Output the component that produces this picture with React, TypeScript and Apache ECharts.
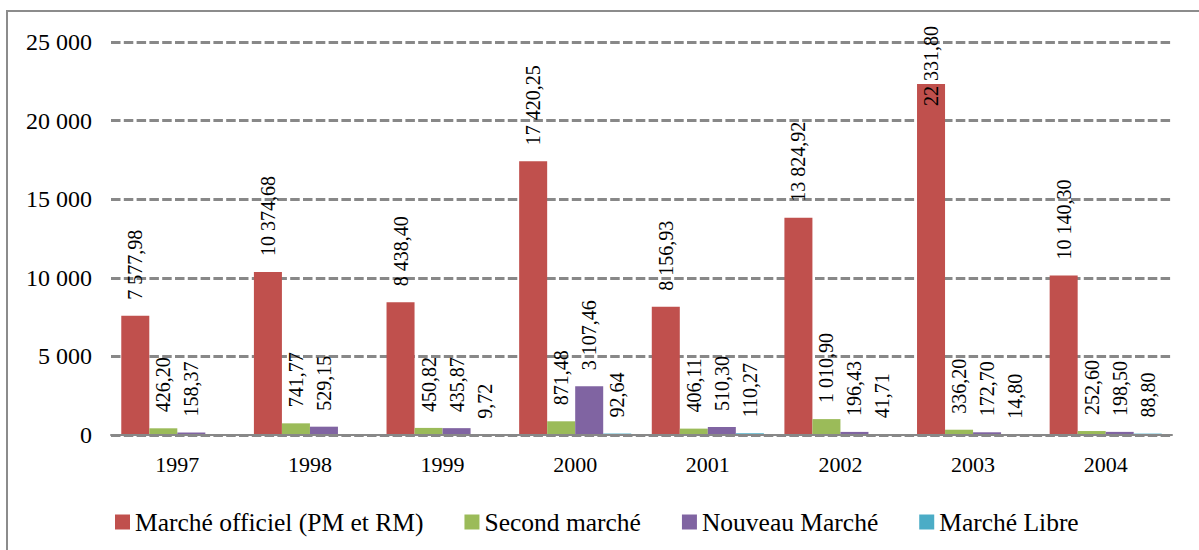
import React, { useEffect, useRef } from "react";
import * as echarts from "echarts";

const years = ["1997", "1998", "1999", "2000", "2001", "2002", "2003", "2004"];
const officiel = [7577.98, 10374.68, 8438.4, 17420.25, 8156.93, 13824.92, 22331.8, 10140.3];
const second = [426.2, 741.77, 450.82, 871.48, 406.11, 1010.9, 336.2, 252.6];
const nouveau = [158.37, 529.15, 435.87, 3107.46, 510.3, 196.43, 172.7, 198.5];
const libre = [null, null, 9.72, 92.64, 110.27, 41.71, 14.8, 88.8];
const seriesNames = ["Marché officiel (PM et RM)", "Second marché", "Nouveau Marché", "Marché Libre"];
const colors = ["#C0504D", "#9BBB59", "#8064A2", "#4BACC6"];
const yTicks = [0, 5000, 10000, 15000, 20000, 25000];

const FONT = "Liberation Serif";

function fmtThousands(n: number): string {
  const s = Math.round(n).toString();
  return s.replace(/\B(?=(\d{3})+(?!\d))/g, " ");
}
function fmtValue(v: number): string {
  const fixed = v.toFixed(2);
  const [ip, dp] = fixed.split(".");
  return fmtThousands(Number(ip)) + "," + dp;
}

export default function App() {
  const ref = useRef<HTMLDivElement>(null);
  useEffect(() => {
    if (!ref.current) return;
    const chart = echarts.init(ref.current, null, { renderer: "svg" });
    const baseLabel = {
      show: true,
      position: "top" as const,
      rotate: 90,
      align: "left" as const,
      verticalAlign: "middle" as const,
      distance: 16,
      fontFamily: FONT,
      fontSize: 20,
      color: "#000",
      formatter: (p: any) => (p.value == null ? "" : fmtValue(p.value)),
    };
    const datasets = [officiel, second, nouveau, libre];
    const series = datasets.map((arr, si) => ({
      name: seriesNames[si],
      type: "bar" as const,
      barGap: "0%",
      barCategoryGap: "15.5%",
      itemStyle: { color: colors[si] },
      label: baseLabel,
      data: arr.map((v) => {
        if (si === 0 && v != null && v > 21000) {
          return { value: v, label: { position: "insideTop", distance: 22 } };
        }
        return v;
      }),
    }));
    chart.setOption({
      animation: false,
      color: colors,
      textStyle: { fontFamily: FONT },
      grid: { left: 111, right: 27, top: 42, bottom: 115 },
      xAxis: {
        type: "category",
        data: years,
        z: 5,
        axisLine: { lineStyle: { color: "#888", width: 2 } },
        axisTick: { show: false },
        axisLabel: { fontFamily: FONT, fontSize: 22, color: "#000", margin: 18 },
      },
      yAxis: {
        type: "value",
        min: yTicks[0],
        max: yTicks[yTicks.length - 1],
        interval: yTicks[1] - yTicks[0],
        axisLine: { show: false },
        axisTick: { show: false },
        axisLabel: {
          fontFamily: FONT,
          fontSize: 24,
          color: "#000",
          margin: 19,
          formatter: (v: number) => fmtThousands(v),
        },
        splitLine: { lineStyle: { color: "#888", width: 3, type: [9.5, 3.3] } },
      },
      legend: {
        left: 110,
        top: 504,
        icon: "rect",
        itemWidth: 15,
        itemHeight: 15,
        itemGap: 41,
        textStyle: { fontFamily: FONT, fontSize: 25.5, color: "#000" },
        data: seriesNames,
      },
      graphic: [
        {
          type: "rect",
          shape: { x: 7, y: 11, width: 1200, height: 545 },
          style: { fill: "none", stroke: "#8c8c8c", lineWidth: 2 },
          silent: true,
        },
      ],
      series,
    });
    return () => chart.dispose();
  }, []);
  return (
    <div
      ref={ref}
      style={{ position: "absolute", left: 0, top: 0, width: 1199, height: 550, background: "#fff" }}
    />
  );
}
